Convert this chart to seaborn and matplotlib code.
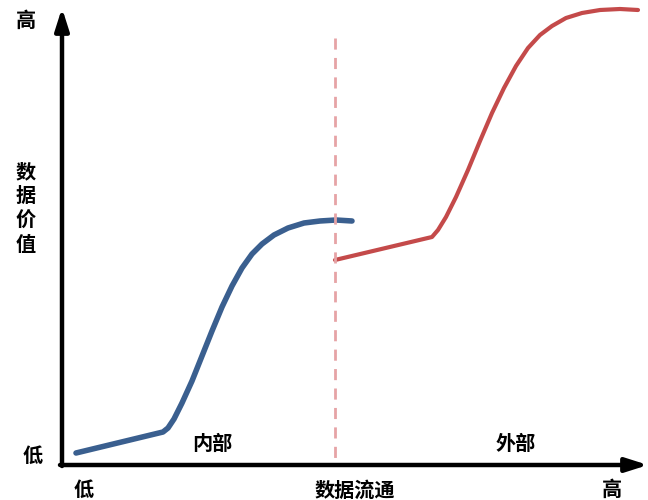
import numpy as np
import pandas as pd
import seaborn as sns
import matplotlib.pyplot as plt

# curve points (pixel-like units, y grows downward)
inner_x = [76, 163, 168, 174, 182, 192, 202, 212, 222, 232, 242, 252, 262, 274, 288, 304, 320, 336, 352]
inner_y = [453, 432, 428, 419, 403, 381, 356, 331, 307, 286, 268, 254, 244, 235, 228, 223, 221, 220, 221]
outer_x = [335, 432, 438, 446, 456, 468, 480, 492, 504, 516, 528, 540, 552, 566, 582, 600, 620, 638]
outer_y = [260, 237, 230, 217, 197, 170, 141, 113, 88, 66, 48, 35, 26, 18, 13, 10, 9, 10]
split_x = 335

def main():
    sns.set_theme(style="white")
    plt.rcParams['font.family'] = ['Noto Sans CJK SC', 'DejaVu Sans']

    fig = plt.figure(figsize=(6.48, 5.0), dpi=100)
    ax = fig.add_axes([0, 0, 1, 1])
    ax.set_xlim(0, 648)
    ax.set_ylim(500, 0)
    ax.axis('off')

    inner = pd.DataFrame({'x': inner_x, 'y': inner_y})
    outer = pd.DataFrame({'x': outer_x, 'y': outer_y})
    sns.lineplot(data=inner, x='x', y='y', sort=False, color='#3a5f8f', linewidth=4, ax=ax)
    sns.lineplot(data=outer, x='x', y='y', sort=False, color='#c44a4a', linewidth=3, ax=ax)

    # dashed split line
    ax.plot([split_x, split_x], [38, 462], color='#e6a3a6', linewidth=2, linestyle=(0, (4, 3)))

    # axes with arrows
    arrow = dict(arrowstyle='-|>,head_width=0.35,head_length=1.1', color='black', lw=3.2,
                 shrinkA=0, shrinkB=0)
    ax.annotate('', xy=(62, 8), xytext=(62, 466), arrowprops=arrow)
    ax.annotate('', xy=(648, 465), xytext=(60, 465), arrowprops=arrow)

    tk = dict(fontsize=14.5, fontweight='bold', ha='center', va='center', color='black')
    ax.text(26, 20, '高', **tk)
    ax.text(26, 208, '数\n据\n价\n值', linespacing=1.2, **tk)
    ax.text(33, 455, '低', **tk)
    ax.text(84, 489, '低', **tk)
    ax.text(355, 490, '数据流通', **tk)
    ax.text(612, 489, '高', **tk)
    ax.text(212, 443, '内部', **tk)
    ax.text(516, 443, '外部', **tk)

    fig.savefig('out.png', dpi=100)

if __name__ == "__main__":
    main()
